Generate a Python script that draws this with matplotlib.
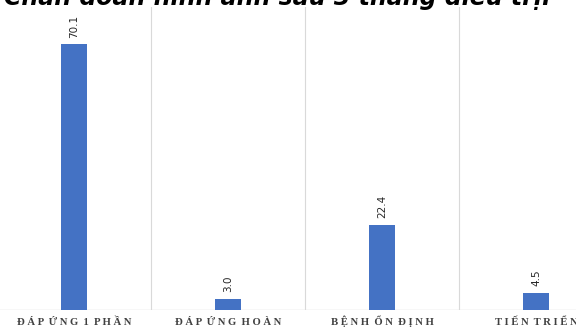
import numpy as np
import matplotlib.pyplot as plt

categories = ["ĐÁP ỨNG 1 PHẦN", "ĐÁP ỨNG HOÀN", "BỆNH ỔN ĐỊNH", "TIẾN TRIỂN"]
values = [70.1, 3.0, 22.4, 4.5]
title = "Chẩn đoán hình ảnh sau 3 tháng điều trị:"

fig = plt.figure(figsize=(5.76, 3.27), dpi=100)
ax = fig.add_axes([-3 / 576, 17 / 327, 616 / 576, 303 / 327])

x = np.arange(len(categories))
bars = ax.bar(x, values, width=0.17, color="#4472C4", zorder=3)

ax.set_xlim(-0.5, len(categories) - 0.5)
ax.set_ylim(0, 80)

# separators between categories
for b in x[:-1] + 0.5:
    ax.axvline(b, color="#d9d9d9", lw=0.8, zorder=1)
ax.axhline(0, color="#d9d9d9", lw=1.0, zorder=2)

for s in ax.spines.values():
    s.set_visible(False)
ax.set_yticks([])
ax.set_xticks([])


def spaced(s):
    # letter-spaced caps like the original
    return "  ".join(" ".join(w) for w in s.split())


for xi, c in zip(x, categories):
    ax.text(xi, -15 / 303, spaced(c), transform=ax.get_xaxis_transform(),
            ha="center", va="baseline", family="Liberation Serif",
            fontweight="bold", fontsize=7.7, color="#404040")

for rect, v in zip(bars, values):
    ax.annotate(f"{v:.1f}", (rect.get_x() + rect.get_width() / 2, v),
                xytext=(0, 5), textcoords="offset points", rotation=90,
                ha="center", va="bottom", fontsize=7.5, color="#262626")

fig.text(0.482, 1 - 5 / 327, title, ha="center", va="baseline",
         fontsize=17, fontweight="bold", style="italic", family="DejaVu Sans")

fig.savefig("out.png", dpi=100)
